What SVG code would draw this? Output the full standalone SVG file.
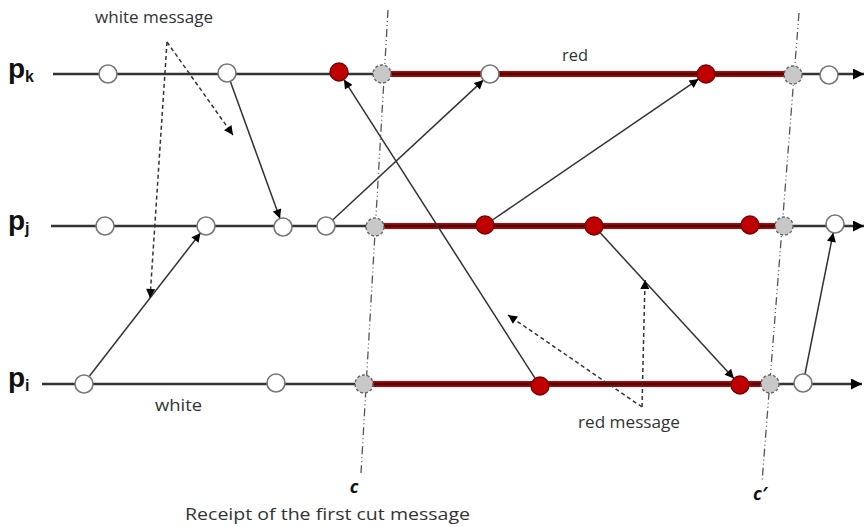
<svg xmlns="http://www.w3.org/2000/svg" width="865" height="527" viewBox="0 0 865 527">
<defs>
<marker id="ah" viewBox="0 0 10 10" refX="10" refY="5" markerWidth="11" markerHeight="9" markerUnits="userSpaceOnUse" orient="auto"><path d="M0,0 L10,5 L0,10 z" fill="#000"/></marker>
<marker id="ahs" viewBox="0 0 10 10" refX="10" refY="5" markerWidth="13" markerHeight="11" markerUnits="userSpaceOnUse" orient="auto"><path d="M0,0 L10,5 L0,10 z" fill="#000"/></marker>
</defs>
<style>
.proc{stroke:#333;stroke-width:2.5;fill:none}
.redA{stroke:#c00000;stroke-width:6;fill:none}
.redB{stroke:#3a0505;stroke-width:2.5;fill:none}
.w{fill:#fff;stroke:#777;stroke-width:1.6}
.r{fill:#c00000;stroke:#7a0000;stroke-width:1.4}
.g{fill:#c8c8c8;stroke:#666;stroke-width:1.4;stroke-dasharray:3 2}
.msg{stroke:#333;stroke-width:1.5;fill:none}
.ann{stroke:#333;stroke-width:1.5;fill:none;stroke-dasharray:4 3}
.cut{stroke:#555;stroke-width:1.3;fill:none;stroke-dasharray:8 3 1 3 1 3}
.t{font-family:"Open Sans",sans-serif;font-size:17px;fill:#333}
.pl{font-family:"Liberation Sans",Arial,sans-serif;font-weight:bold;font-size:28px;fill:#111}
.ps{font-family:"Liberation Sans",Arial,sans-serif;font-weight:bold;font-size:16px;fill:#111}
.cl{font-family:"Open Sans",sans-serif;font-weight:bold;font-style:italic;font-size:18px;fill:#111}
</style>
<g id="cuts">
<line class="cut" x1="388" y1="10" x2="361" y2="473"/>
<line class="cut" x1="799" y1="13" x2="762" y2="482"/>
</g>
<g id="process-pk">
<text class="pl" x="8" y="78">p<tspan class="ps" dy="4">k</tspan></text>
<line class="proc" x1="53" y1="74" x2="864" y2="74" marker-end="url(#ahs)"/>
<line class="redA" x1="382" y1="74" x2="793" y2="74"/>
<line class="redB" x1="382" y1="74" x2="793" y2="74"/>
</g>
<g id="process-pj">
<text class="pl" x="8" y="230">p<tspan class="ps" dy="4">j</tspan></text>
<line class="proc" x1="51" y1="226" x2="864" y2="226" marker-end="url(#ahs)"/>
<line class="redA" x1="375" y1="226" x2="784" y2="226"/>
<line class="redB" x1="375" y1="226" x2="784" y2="226"/>
</g>
<g id="process-pi">
<text class="pl" x="8" y="387">p<tspan class="ps" dy="4">i</tspan></text>
<line class="proc" x1="42" y1="384" x2="862" y2="384" marker-end="url(#ahs)"/>
<line class="redA" x1="363" y1="384" x2="770" y2="384"/>
<line class="redB" x1="363" y1="384" x2="770" y2="384"/>
</g>
<g id="connectors">
<line class="msg" x1="89.5" y1="376" x2="200.5" y2="233" marker-end="url(#ah)"/>
<line class="msg" x1="230" y1="80.5" x2="280" y2="218.5" marker-end="url(#ah)"/>
<line class="msg" x1="332.6" y1="220" x2="483.4" y2="80.1" marker-end="url(#ah)"/>
<line class="msg" x1="535.1" y1="378.4" x2="343.9" y2="79.6" marker-end="url(#ah)"/>
<line class="msg" x1="492.4" y1="220" x2="698.6" y2="79.1" marker-end="url(#ah)"/>
<line class="msg" x1="600" y1="232.6" x2="733.9" y2="378.4" marker-end="url(#ah)"/>
<line class="msg" x1="804.8" y1="375" x2="833.2" y2="232.8" marker-end="url(#ah)"/>
<line class="ann" x1="167" y1="42" x2="233" y2="135" marker-end="url(#ah)"/>
<line class="ann" x1="167" y1="42" x2="150" y2="298" marker-end="url(#ah)"/>
<line class="ann" x1="642" y1="407" x2="645" y2="280" marker-end="url(#ah)"/>
<line class="ann" x1="642" y1="407" x2="508" y2="315" marker-end="url(#ah)"/>
</g>
<g id="events-pk">
<circle class="w" cx="108" cy="74" r="9"/>
<circle class="w" cx="227" cy="73" r="9"/>
<circle class="r" cx="339" cy="72" r="9"/>
<circle class="g" cx="382" cy="74" r="9"/>
<circle class="w" cx="490" cy="74" r="9"/>
<circle class="r" cx="706" cy="74" r="9"/>
<circle class="g" cx="793" cy="75" r="9"/>
<circle class="w" cx="829" cy="75" r="9"/>
</g>
<g id="events-pj">
<circle class="w" cx="105" cy="226" r="9"/>
<circle class="w" cx="206" cy="226" r="9"/>
<circle class="w" cx="283" cy="227" r="9"/>
<circle class="w" cx="326" cy="226" r="9"/>
<circle class="g" cx="375" cy="227" r="9"/>
<circle class="r" cx="485" cy="225" r="9"/>
<circle class="r" cx="594" cy="226" r="9"/>
<circle class="r" cx="750" cy="225" r="9"/>
<circle class="g" cx="784" cy="226" r="9"/>
<circle class="w" cx="835" cy="224" r="9"/>
</g>
<g id="events-pi">
<circle class="w" cx="84" cy="384" r="9"/>
<circle class="w" cx="276" cy="383" r="9"/>
<circle class="g" cx="364" cy="384" r="9"/>
<circle class="r" cx="540" cy="386" r="9"/>
<circle class="r" cx="740" cy="385" r="9"/>
<circle class="g" cx="770" cy="384" r="9"/>
<circle class="w" cx="803" cy="383" r="9"/>
</g>
<g id="labels">
<text class="t" x="95" y="23" textLength="118" lengthAdjust="spacingAndGlyphs">white message</text>
<text class="t" x="562" y="61" textLength="26" lengthAdjust="spacingAndGlyphs">red</text>
<text class="t" x="155" y="411" textLength="47" lengthAdjust="spacingAndGlyphs">white</text>
<text class="t" x="578" y="428" textLength="102" lengthAdjust="spacingAndGlyphs">red message</text>
<text class="cl" x="354" y="493" text-anchor="middle">c</text>
<text class="cl" x="760" y="500" text-anchor="middle">c′</text>
<text class="t" x="185" y="520" textLength="285" lengthAdjust="spacingAndGlyphs">Receipt of the first cut message</text>
</g>
</svg>
